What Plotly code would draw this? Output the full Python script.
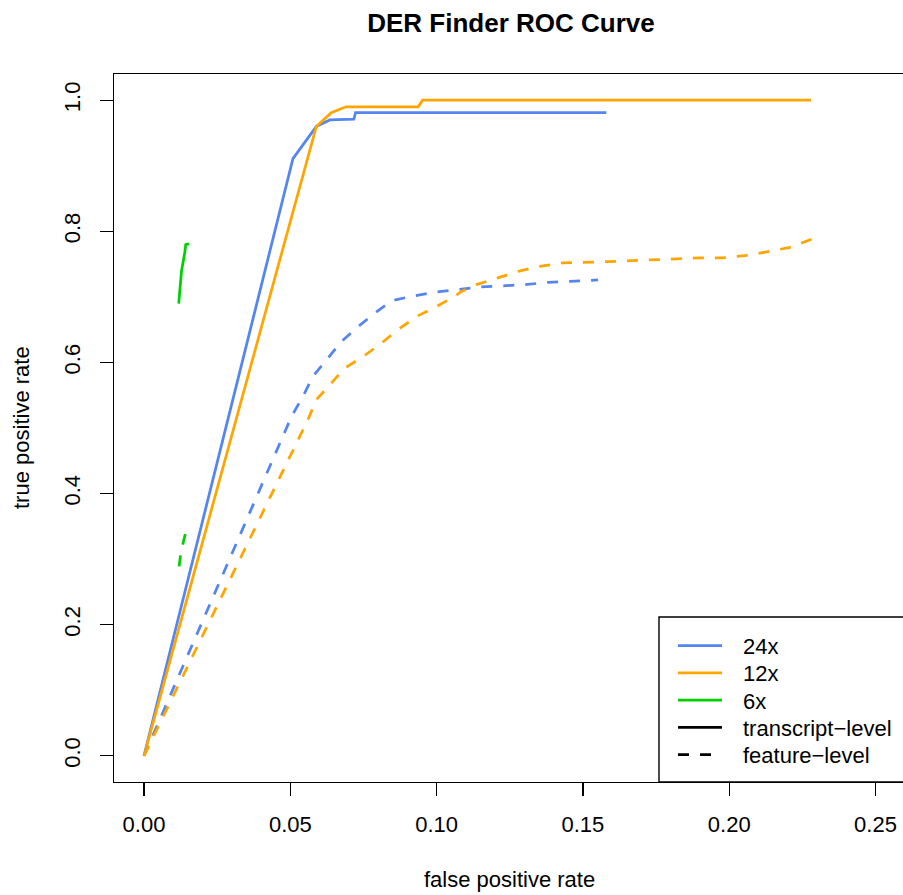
import plotly.graph_objects as go

# ---------------- data ----------------
tx24_fpr = [0.0, 0.0509, 0.0589, 0.0635, 0.0717, 0.0723, 0.158]
tx24_tpr = [0.0, 0.911, 0.960, 0.970, 0.971, 0.981, 0.981]

tx12_fpr = [0.0, 0.0589, 0.0640, 0.0690, 0.0937, 0.0952, 0.228]
tx12_tpr = [0.0, 0.960, 0.981, 0.990, 0.990, 1.000, 1.000]

tx6_fpr = [0.01186, 0.0128, 0.0139, 0.01426, 0.01538]
tx6_tpr = [0.6896, 0.739, 0.767, 0.7797, 0.7808]

ft24_fpr = [0.0, 0.0504, 0.0543, 0.0577, 0.0624, 0.0675, 0.0726, 0.0789, 0.0846,
            0.0914, 0.0994, 0.1068, 0.1148, 0.1301, 0.1381, 0.1455, 0.1552]
ft24_tpr = [0.0, 0.5175, 0.548, 0.5786, 0.604, 0.632, 0.6525, 0.6754, 0.694,
            0.7008, 0.707, 0.711, 0.715, 0.7187, 0.7222, 0.7237, 0.7258]

ft12_fpr = [0.0, 0.0561, 0.0589, 0.0635, 0.0686, 0.0749, 0.0812, 0.0868, 0.0931,
            0.1000, 0.1062, 0.1085, 0.1136, 0.1210, 0.1279, 0.1353, 0.1432, 0.1586,
            0.1740, 0.1897, 0.1974, 0.2054, 0.2128, 0.2208, 0.2282]
ft12_tpr = [0.0, 0.5135, 0.543, 0.566, 0.5914, 0.609, 0.6296, 0.650, 0.670,
            0.6855, 0.7008, 0.7084, 0.7187, 0.729, 0.739, 0.7466, 0.7518, 0.7538,
            0.7568, 0.7594, 0.7594, 0.763, 0.7686, 0.7756, 0.788]

ft6_fpr = [0.0120, 0.0126, 0.0135, 0.0141]
ft6_tpr = [0.289, 0.310, 0.327, 0.338]

x_ticks = [0.00, 0.05, 0.10, 0.15, 0.20, 0.25]
x_tick_labels = ["0.00", "0.05", "0.10", "0.15", "0.20", "0.25"]
y_ticks = [0.0, 0.2, 0.4, 0.6, 0.8, 1.0]
y_tick_labels = ["0.0", "0.2", "0.4", "0.6", "0.8", "1.0"]

legend_labels = ["24x", "12x", "6x", "transcript\u2212level", "feature\u2212level"]
legend_colors = ["#5585EE", "#FFA500", "#00D000", "#000000", "#000000"]
legend_dashes = ["solid", "solid", "solid", "solid", "dash"]

# ---------------- styling ----------------
BLUE, ORANGE, GREEN = "#5585EE", "#FFA500", "#00D000"
LW = 2.75
DASH = "11px,11px"
FONT = "Liberation Sans, Arial, Helvetica, sans-serif"

W, H = 903, 895
ML, MR, MT, MB = 114, 0, 74, 113
PW, PH = W - ML - MR, H - MT - MB


def px_x(p):
    return (p - ML) / PW


def px_y(p):
    return (H - MB - p) / PH


fig = go.Figure()

series = [
    (tx24_fpr, tx24_tpr, BLUE, "solid"),
    (tx12_fpr, tx12_tpr, ORANGE, "solid"),
    (tx6_fpr, tx6_tpr, GREEN, "solid"),
    (ft24_fpr, ft24_tpr, BLUE, DASH),
    (ft12_fpr, ft12_tpr, ORANGE, DASH),
    (ft6_fpr, ft6_tpr, GREEN, DASH),
]
for xs, ys, col, dash in series:
    fig.add_trace(go.Scatter(x=xs, y=ys, mode="lines",
                             line=dict(color=col, width=LW, dash=dash),
                             showlegend=False, hoverinfo="skip"))

# ---------------- legend (drawn manually, R style) ----------------
shapes = [dict(type="rect", xref="paper", yref="paper",
               x0=px_x(659), x1=1.05, y0=0, y1=px_y(617),
               line=dict(color="black", width=1.4), fillcolor="white", layer="above")]
annotations = []
leg_y = [645.5, 672.8, 700.0, 727.3, 754.6]
for lab, col, dsh, yy in zip(legend_labels, legend_colors, legend_dashes, leg_y):
    shapes.append(dict(type="line", xref="paper", yref="paper",
                       x0=px_x(678), x1=px_x(722), y0=px_y(yy), y1=px_y(yy),
                       line=dict(color=col, width=LW, dash=DASH if dsh == "dash" else "solid"),
                       layer="above"))
    annotations.append(dict(xref="paper", yref="paper", x=px_x(741), y=px_y(yy + 1),
                            text=lab, showarrow=False, xanchor="left", yanchor="middle",
                            font=dict(family=FONT, size=22, color="black")))

# axis titles
annotations.append(dict(xref="paper", yref="paper", x=px_x(509), y=px_y(879),
                        text="false positive rate", showarrow=False,
                        xanchor="center", yanchor="middle",
                        font=dict(family=FONT, size=22, color="black")))
annotations.append(dict(xref="paper", yref="paper", x=px_x(21), y=px_y(428),
                        text="true positive rate", showarrow=False, textangle=-90,
                        xanchor="center", yanchor="middle",
                        font=dict(family=FONT, size=22, color="black")))

fig.update_layout(
    width=W, height=H,
    margin=dict(l=ML, r=MR, t=MT, b=MB, pad=0),
    paper_bgcolor="white", plot_bgcolor="white",
    title=dict(text="<b>DER Finder ROC Curve</b>", x=511 / W, xref="container",
               xanchor="center", y=1 - 23 / H, yref="container", yanchor="middle",
               font=dict(family=FONT, size=26, color="black")),
    shapes=shapes, annotations=annotations,
    showlegend=False,
    xaxis=dict(range=[-0.01026, 0.2594], tickvals=x_ticks, ticktext=x_tick_labels,
               ticks="outside", ticklen=13, tickwidth=1.4, tickcolor="black",
               ticklabelstandoff=9,
               showline=True, linecolor="black", linewidth=1.4, mirror=True,
               showgrid=False, zeroline=False,
               tickfont=dict(family=FONT, size=22, color="black")),
    yaxis=dict(range=[-0.04, 1.04], tickvals=y_ticks, ticktext=y_tick_labels,
               ticks="outside", ticklen=13, tickwidth=1.4, tickcolor="black",
               ticklabelstandoff=11,
               showline=True, linecolor="black", linewidth=1.4, mirror=False,
               showgrid=False, zeroline=False, tickangle=-90,
               tickfont=dict(family=FONT, size=22, color="black")),
)

fig.write_html("out.html",
               config={"displayModeBar": False, "staticPlot": True},
               post_script="document.body.style.margin='0px';"
                           "document.body.style.padding='0px';"
                           "document.body.style.overflow='hidden';")
